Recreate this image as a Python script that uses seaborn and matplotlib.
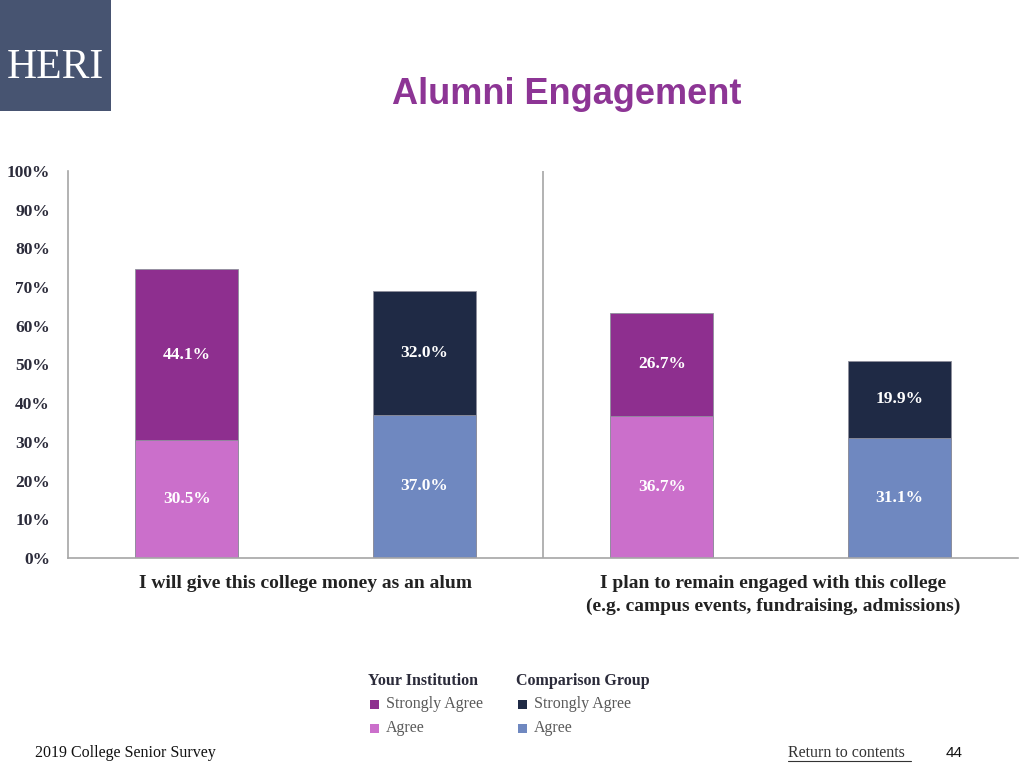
import matplotlib
matplotlib.use("Agg")
import matplotlib.pyplot as plt
from matplotlib.patches import Rectangle
from matplotlib.lines import Line2D
import pandas as pd
import seaborn as sns

# data
questions = ["I will give this college money as an alum",
             "I plan to remain engaged with this college\n(e.g. campus events, fundraising, admissions)"]
groups = ["Your Institution", "Comparison Group"]
your_strong = [44.1, 26.7]
your_agree = [30.5, 36.7]
comp_strong = [32.0, 19.9]
comp_agree = [37.0, 31.1]
y_ticks = [0, 10, 20, 30, 40, 50, 60, 70, 80, 90, 100]

c_your_strong = "#8E2F8F"
c_your_agree = "#CB6FCB"
c_comp_strong = "#1F2A45"
c_comp_agree = "#6F88C0"

rows = []
for i in range(len(questions)):
    rows.append(dict(bar=f"Y{i}", strong=your_strong[i], agree=your_agree[i]))
    rows.append(dict(bar=f"C{i}", strong=comp_strong[i], agree=comp_agree[i]))
df = pd.DataFrame(rows)
df["total"] = df["strong"] + df["agree"]
order = list(df["bar"])
strong_pal = {b: (c_your_strong if b[0] == "Y" else c_comp_strong) for b in order}
agree_pal = {b: (c_your_agree if b[0] == "Y" else c_comp_agree) for b in order}

sns.set_style("white")
plt.rcParams["font.family"] = ["Liberation Serif", "DejaVu Serif"]

fig = plt.figure(figsize=(10.24, 7.68), dpi=100)
ax = fig.add_axes([68 / 1024, 1 - 558 / 768, 950 / 1024, 387 / 768])

# stacked bars: total first (strongly agree colour), agree drawn on top from 0
sns.barplot(data=df, x="bar", y="total", hue="bar", order=order, hue_order=order,
            palette=strong_pal, width=0.434, legend=False, ax=ax, saturation=1,
            edgecolor="#8f8f9c", linewidth=0.6)
sns.barplot(data=df, x="bar", y="agree", hue="bar", order=order, hue_order=order,
            palette=agree_pal, width=0.434, legend=False, ax=ax, saturation=1,
            edgecolor="#8f8f9c", linewidth=0.6)

for i, r in df.iterrows():
    ax.text(i, r["agree"] + r["strong"] / 2, f"{r['strong']:.1f}%", ha="center", va="center",
            color="white", fontsize=12.5, fontweight="bold")
    ax.text(i, r["agree"] / 2, f"{r['agree']:.1f}%", ha="center", va="center",
            color="white", fontsize=12.5, fontweight="bold")

ax.set_xlim(-0.5, 3.5)
ax.set_ylim(0, 100)
ax.set_yticks(y_ticks)
ax.set_yticklabels([f"{t}%" for t in y_ticks], fontsize=12.5, fontweight="bold", color="#2b2b3a")
ax.tick_params(axis="y", length=0, pad=13)
ax.set_xticks([0.5, 2.47])
ax.set_xticklabels(questions, fontsize=14, fontweight="bold", color="#222222", linespacing=1.45)
ax.tick_params(axis="x", length=0, pad=12)
ax.set_xlabel("")
ax.set_ylabel("")
ax.axvline(1.5, color="#a6a6a6", linewidth=1.2)
for s in ["top", "right"]:
    ax.spines[s].set_visible(False)
for s in ["left", "bottom"]:
    ax.spines[s].set_color("#a6a6a6")
    ax.spines[s].set_linewidth(1.2)

# logo block and title
fig.add_artist(Rectangle((0, 1 - 111 / 768), 111 / 1024, 111 / 768, transform=fig.transFigure,
                         facecolor="#475471", edgecolor="none"))
fig.text(55 / 1024, 1 - 68 / 768, "HERI", color="white", fontsize=30, ha="center", va="center")
fig.text(567 / 1024, 1 - 94 / 768, "Alumni Engagement", color="#8D3595", fontsize=26,
         fontweight="bold", ha="center", va="center", family=["Liberation Sans", "DejaVu Sans"])

# legend
leg_cols = [(368, groups[0], [c_your_strong, c_your_agree]),
            (516, groups[1], [c_comp_strong, c_comp_agree])]
for x0, head, cols in leg_cols:
    fig.text(x0 / 1024, 1 - 681 / 768, head, fontsize=11.5, fontweight="bold",
             color="#2b2b3a", va="center")
    for k, (lab, col) in enumerate(zip(["Strongly Agree", "Agree"], cols)):
        y = 704 + 24 * k
        fig.add_artist(Rectangle(((x0 + 2) / 1024, 1 - (y + 4.5) / 768), 9 / 1024, 9 / 768,
                                 transform=fig.transFigure, facecolor=col, edgecolor="none"))
        fig.text((x0 + 18) / 1024, 1 - y / 768, lab, fontsize=11.5, color="#5a5a5a", va="center")

# footer
fig.text(35 / 1024, 1 - 753 / 768, "2019 College Senior Survey", fontsize=11.5, color="#111111",
         va="center")
fig.text(788 / 1024, 1 - 753 / 768, "Return to contents", fontsize=11.5, color="#333333",
         va="center")
fig.add_artist(Line2D([788 / 1024, 911 / 1024], [1 - 761 / 768, 1 - 761 / 768],
                      transform=fig.transFigure, color="#333333", linewidth=0.8))
fig.text(954 / 1024, 1 - 753 / 768, "44", fontsize=11, color="#111111", va="center", ha="center",
         family=["Liberation Sans", "DejaVu Sans"])

fig.savefig("out.png", dpi=100)
